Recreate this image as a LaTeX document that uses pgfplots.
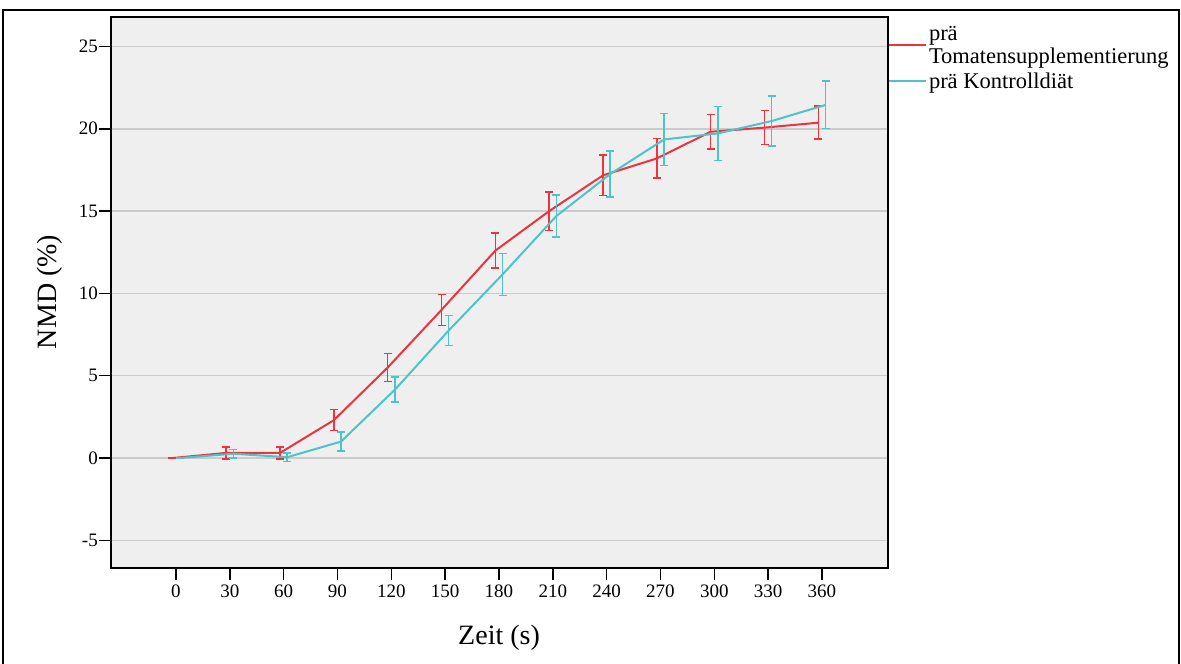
\documentclass[border=0pt]{standalone}
\usepackage{fontspec}
\setmainfont{Liberation Serif}
\usepackage{pgfplots}
\usepackage{pgfplotstable}
\pgfplotsset{compat=1.18}
\definecolor{redline}{HTML}{EC3440}
\definecolor{cyanline}{HTML}{4DC4C8}
\definecolor{plotbg}{HTML}{EFEFEF}
\definecolor{gridc}{HTML}{CBCBCB}

\pgfplotstableread{
x y e
-2 0 0
28 0.31 0.37
58 0.31 0.37
88 2.3 0.64
118 5.5 0.86
148 9.0 0.94
178 12.6 1.07
208 15.0 1.17
238 17.17 1.23
268 18.2 1.2
298 19.82 1.04
328 20.07 1.04
358 20.37 1.0
}\redtab

\pgfplotstableread{
x y e
2 0 0
32 0.26 0.25
62 0.05 0.26
92 1.0 0.57
122 4.15 0.76
152 7.75 0.9
182 11.15 1.27
212 14.7 1.28
242 17.25 1.39
272 19.35 1.59
302 19.72 1.64
332 20.47 1.52
362 21.45 1.44
}\cyantab

\begin{document}
\begin{tikzpicture}[x=1pt,y=1pt]
\useasboundingbox (0pt,0pt) rectangle (1181pt,664pt);
\draw[line width=2pt] (3pt,0pt) -- (3pt,654pt) -- (1179pt,654pt) -- (1179pt,0pt);
\begin{axis}[
  at={(111pt,96pt)}, anchor=south west,
  width=777pt, height=551pt, scale only axis,
  xmin=-36.2, xmax=396.8, ymin=-6.68, ymax=26.79,
  xtick={0,30,...,360}, ytick={-5,0,...,25},
  tick pos=left, tick align=outside, major tick length=12pt,
  every tick/.style={black, line width=1.5pt},
  ymajorgrids, grid style={gridc, line width=1.5pt},
  axis background/.style={fill=plotbg},
  axis line style={line width=2pt},
  ticklabel style={font=\fontsize{19}{22}\selectfont},
  yticklabel style={inner sep=1pt},
  xticklabel style={inner sep=2pt, yshift=-3pt},
  /pgf/number format/assume math mode=true,
  xlabel={Zeit (s)}, ylabel={NMD (\%)},
  label style={font=\fontsize{28}{32}\selectfont},
  xlabel style={at={(axis description cs:0.4994,-0.127)}, anchor=center},
  ylabel style={at={(axis description cs:-0.0785,0.501)}, anchor=center},
  legend style={at={(axis description cs:1,1)}, anchor=north west, draw=none, fill=none,
    yshift=-7pt,
    font=\fontsize{22.5}{23}\selectfont, inner sep=0pt, outer sep=0pt, row sep=4pt,
    cells={align=left}},
  legend cell align=left,
  legend image code/.code={\draw[#1, line width=2pt] (0pt,0pt) -- (37pt,0pt);},
]
\addplot[redline, line width=2pt, no markers,
  error bars/.cd, y dir=both, y explicit,
  error bar style={line width=1.5pt},
  error mark options={rotate=90, mark size=4pt, line width=1.5pt}]
  table[x=x, y=y, y error=e] {\redtab};
\addlegendentry{prä\\Tomatensupplementierung}
\addplot[cyanline, line width=2pt, no markers,
  error bars/.cd, y dir=both, y explicit,
  error bar style={line width=1.5pt},
  error mark options={rotate=90, mark size=4pt, line width=1.5pt}]
  table[x=x, y=y, y error=e] {\cyantab};
\addlegendentry{prä Kontrolldiät}
\end{axis}
\end{tikzpicture}
\end{document}
